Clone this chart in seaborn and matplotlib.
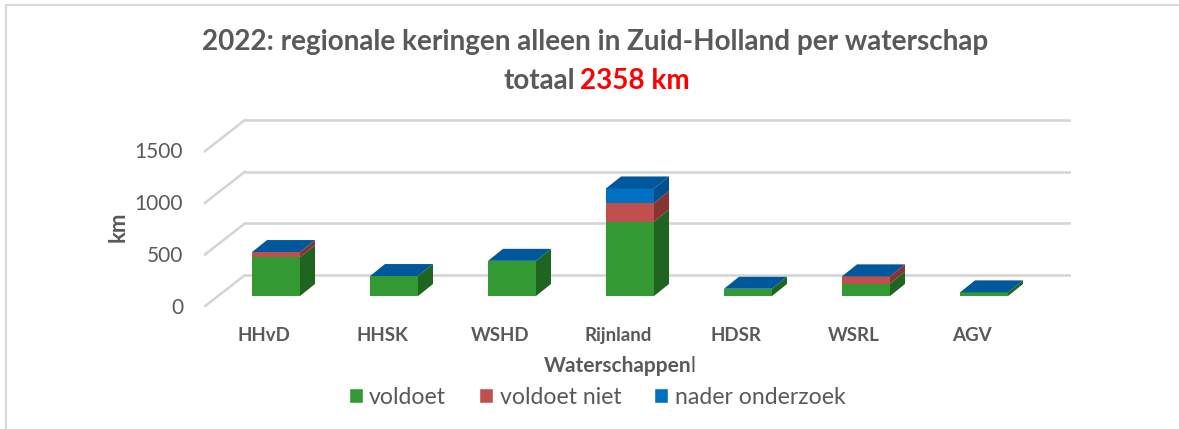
import matplotlib
matplotlib.use('Agg')
import matplotlib.pyplot as plt
import matplotlib.transforms as mtrans
from matplotlib.lines import Line2D
from matplotlib.patches import Patch
import numpy as np
import pandas as pd
import seaborn as sns

# regionale keringen 2022, km per waterschap
waterschappen = ['HHvD', 'HHSK', 'WSHD', 'Rijnland', 'HDSR', 'WSRL', 'AGV']
voldoet = [375, 193, 340, 720, 70, 120, 35]
voldoet_niet = [50, 0, 0, 180, 0, 70, 0]
nader_onderzoek = [0, 0, 0, 140, 0, 0, 0]
reeksen = ['voldoet', 'voldoet niet', 'nader onderzoek']
y_ticks = [0, 500, 1000, 1500]

kleur_voor = ['#339933', '#C0504D', '#0070C0']
kleur_zij = ['#1F6420', '#8A3432', '#00508C']
kleur_top = '#00589C'
grijs = '#595959'

W, H = 1179, 429
PX_KM = 0.1034    # pixels per km op het voorvlak
PX_CAT = 118      # pixels tussen de staven
DX, DY = 15, 12   # diepte van de staaf in pixels
WALL_DX, WALL_DY = 41, 32

sns.set_theme(style='white')
plt.rcParams['font.family'] = ['Lato', 'DejaVu Sans']

fig = plt.figure(figsize=(W / 100, H / 100), dpi=100)
fig.patch.set_facecolor('white')

# voorvlak: x=0 ligt op pixel 276, y=0 op pixel 296
left, right, top, bottom = 204, 1071, 110, 307
ax = fig.add_axes([left / W, 1 - bottom / H, (right - left) / W, (bottom - top) / H])
ax.set_xlim((left - 276) / PX_CAT, (right - 276) / PX_CAT)
ax.set_ylim(-(bottom - 296) / PX_KM, (296 - top) / PX_KM)

df = pd.DataFrame({'waterschap': waterschappen, 'voldoet': voldoet,
                   'voldoet niet': voldoet_niet, 'nader onderzoek': nader_onderzoek})
df['x'] = range(len(df))

ddx = DX / PX_CAT
ddy = DY / PX_KM
wall_dx = WALL_DX / PX_CAT
wall_dy = WALL_DY / PX_KM
x0 = (left - 276) / PX_CAT
floor = -(bottom - 296) / PX_KM

# raster op de achterwand met schuine lijn naar voren
for v in y_ticks:
    ax.plot([x0, x0 + wall_dx], [floor + v, floor + v + wall_dy], color='#D4D4D4', lw=1.8, zorder=1)
    ax.plot([x0 + wall_dx, ax.get_xlim()[1]], [floor + v + wall_dy] * 2, color='#D4D4D4', lw=1.8, zorder=1)

# staven
breedte = 48 / PX_CAT
basis = np.zeros(len(df))
for naam, voor, zij in zip(reeksen, kleur_voor, kleur_zij):
    waarden = df[naam].to_numpy(dtype=float)
    sns.barplot(data=df, x='x', y=naam, native_scale=True, orient='x', color=voor, saturation=1,
                width=breedte, bottom=basis, ax=ax, zorder=3, linewidth=0)
    for xi, b, w in zip(df['x'], basis, waarden):
        if w > 0:
            rx = xi + breedte / 2
            ax.fill([rx, rx + ddx, rx + ddx, rx], [b, b + ddy, b + w + ddy, b + w],
                    color=zij, lw=0, zorder=3)
    basis = basis + waarden

# bovenvlak
for xi, t in zip(df['x'], basis):
    lx = xi - breedte / 2
    rx = xi + breedte / 2
    ax.fill([lx, rx, rx + ddx, lx + ddx], [t, t, t + ddy, t + ddy], color=kleur_top, lw=0, zorder=4)

for s in ax.spines.values():
    s.set_visible(False)
ax.set_xlabel('')
ax.set_ylabel('')

ax.set_xticks(df['x'].to_numpy(), waterschappen, fontsize=13.5, fontweight='bold', color=grijs)
ax.set_yticks(y_ticks, [str(v) for v in y_ticks], fontsize=15, color=grijs)
ax.tick_params(axis='both', length=0)
ax.tick_params(axis='x', pad=14.5)
ax.tick_params(axis='y', pad=15)
sx = mtrans.ScaledTranslation(-12 / 100, 0, fig.dpi_scale_trans)
sy = mtrans.ScaledTranslation(0, -9.5 / 100, fig.dpi_scale_trans)
for lab in ax.get_xticklabels():
    lab.set_transform(lab.get_transform() + sx)
for lab in ax.get_yticklabels():
    lab.set_transform(lab.get_transform() + sy)

# titel, tweede regel met rood getal
fig.text(595 / W, 1 - 42 / H, '2022: regionale keringen alleen in Zuid-Holland per waterschap',
         ha='center', va='center', fontsize=20.1, fontweight='bold', color=grijs)
fig.text(575 / W, 1 - 81 / H, 'totaal', ha='right', va='center', fontsize=20.1, fontweight='bold', color=grijs)
fig.text(580 / W, 1 - 81 / H, '2358 km', ha='left', va='center', fontsize=20.1, fontweight='bold', color='#FF0000')

fig.text(118 / W, 1 - 227 / H, 'km', rotation=90, ha='center', va='center', fontsize=16, fontweight='bold', color=grijs)
fig.text(691 / W, 1 - 366 / H, 'Waterschappen', ha='right', va='center', fontsize=15, fontweight='bold', color=grijs)
fig.text(691 / W, 1 - 366 / H, 'l', ha='left', va='center', fontsize=15, color=grijs)

handles = [Patch(facecolor=k, label=n) for k, n in zip(kleur_voor, reeksen)]
leg = fig.legend(handles=handles, loc='center', bbox_to_anchor=(597 / W, 1 - 397 / H), ncol=3, frameon=False,
                 fontsize=16.6, handlelength=0.61, handleheight=0.61, handletextpad=0.28, columnspacing=1.43,
                 labelcolor=grijs)

# kader van de grafiek: alleen boven en links zichtbaar
fig.add_artist(Line2D([6 / W, 1], [1 - 4.5 / H] * 2, transform=fig.transFigure, color='#D9D9D9', lw=1.5))
fig.add_artist(Line2D([6 / W] * 2, [0, 1 - 4.5 / H], transform=fig.transFigure, color='#D9D9D9', lw=1.5))

plt.savefig('out.png', dpi=100)
